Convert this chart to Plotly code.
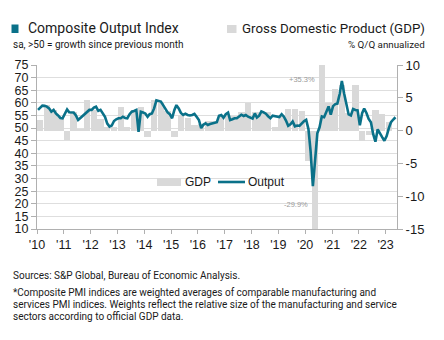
import plotly.graph_objects as go

# ---------------- data ----------------
pmi_start_year = 2010
pmi_values = [
    57.2, 58.0, 58.9, 58.8, 58.5, 57.8, 56.5, 57.2, 55.8, 55.0, 54.0, 53.9,  # 2010
    55.5, 57.4, 56.3, 56.2, 56.2, 55.0, 53.2, 54.0, 54.8, 55.5, 56.5, 57.2,  # 2011
    57.2, 58.1, 58.5, 56.8, 57.2, 55.8, 54.5, 51.8, 50.6, 51.0, 52.8, 53.5,  # 2012
    53.9, 53.9, 54.5, 54.0, 53.9, 55.5, 56.5, 56.8, 57.2, 48.5, 56.5, 56.2,  # 2013
    55.8, 54.5, 55.5, 55.8, 57.8, 61.0, 60.6, 60.5, 59.1, 57.8, 56.2, 55.5,  # 2014
    53.9, 57.2, 59.1, 57.8, 56.0, 55.2, 55.7, 55.2, 55.0, 55.2, 55.6, 54.5,  # 2015
    53.2, 50.0, 51.3, 51.9, 51.2, 51.6, 51.9, 52.1, 52.3, 54.9, 55.2, 54.1,  # 2016
    55.5, 56.1, 53.2, 53.5, 53.9, 53.9, 54.6, 55.3, 54.8, 55.2, 54.5, 54.1,  # 2017
    53.8, 55.8, 54.2, 54.9, 56.6, 56.2, 55.7, 54.7, 53.9, 54.9, 54.7, 54.4,  # 2018
    54.4, 55.5, 54.6, 53.0, 50.9, 51.5, 52.6, 50.7, 51.0, 50.9, 52.0, 52.7,  # 2019
    53.3, 49.6, 40.9, 27.0, 37.0, 47.9, 50.3, 54.6, 54.3, 56.3, 58.6, 55.3,  # 2020
    58.7, 59.5, 59.7, 63.5, 68.7, 63.7, 59.9, 55.4, 55.0, 57.6, 57.2, 57.0,  # 2021
    51.1, 55.9, 57.7, 56.0, 53.6, 52.3, 47.7, 44.6, 49.5, 48.2, 46.4, 45.0,  # 2022
    46.8, 50.1, 52.3, 53.4, 54.3,                                            # 2023
]
gdp_values = [
    1.6, 3.9, 3.1, 2.0,      # 2010
    -1.4, 2.9, 0.2, 4.6,     # 2011
    3.2, 1.7, 0.5, 0.5,      # 2012
    3.6, 0.5, 3.2, 3.6,      # 2013
    -1.0, 4.7, 4.3, 3.0,     # 2014
    -1.0, 2.4, 1.9, 0.8,     # 2015
    1.0, 1.4, 1.4, 2.3,      # 2016
    2.3, 2.3, 2.8, 4.2,      # 2017
    2.9, 2.9, 2.9, 0.6,      # 2018
    2.4, 3.3, 3.3, 3.0,      # 2019
    -4.6, -29.9, 35.3, 4.2,  # 2020
    6.3, 7.0, 2.7, 7.0,      # 2021
    -1.6, -0.6, 3.2, 2.6,    # 2022
    1.3,                     # 2023
]
year_ticks = list(range(2010, 2024))
year_labels = ["'" + str(y)[2:] for y in year_ticks]
left_ticks = list(range(10, 80, 5))
right_ticks = [10, 5, 0, -5, -10, -15]
right_labels = ["10", "5", "0", "-5", "-10", "-15"]

# --------------- derived x positions ---------------
pmi_dates = []
for i in range(len(pmi_values)):
    y = pmi_start_year + i // 12
    m = i % 12 + 1
    pmi_dates.append(f"{y}-{m:02d}-15")
gdp_dates = []
for i in range(len(gdp_values)):
    y = pmi_start_year + i // 4
    m = (i % 4) * 3 + 2
    gdp_dates.append(f"{y}-{m:02d}-15")

TEAL = "#0a7189"
GRAY_BAR = "#d9d9d9"
AXIS = "#b0b0b0"
GRID = "#dedede"
TXT = "#1a1a1a"
FONT = "Liberation Sans, Arial, sans-serif"
TFONT = "Roboto, Liberation Sans, sans-serif"

fig = go.Figure()
fig.add_trace(go.Bar(
    x=gdp_dates, y=gdp_values, name="GDP", yaxis="y",
    marker=dict(color=GRAY_BAR, line=dict(width=0)),
    width=86 * 24 * 3600 * 1000, showlegend=False,
))
fig.add_trace(go.Scatter(
    x=pmi_dates, y=pmi_values, name="Output", yaxis="y2", mode="lines",
    line=dict(color=TEAL, width=2.6), showlegend=False,
))

fig.update_layout(
    width=444, height=340,
    margin=dict(l=37, r=47, t=65, b=111),
    paper_bgcolor="white", plot_bgcolor="white",
    font=dict(family=FONT, size=12, color=TXT),
    bargap=0,
    xaxis=dict(
        type="date", range=["2010-01-01", "2023-06-05"],
        tickvals=[f"{y}-01-01" for y in year_ticks], ticktext=year_labels,
        ticks="outside", ticklen=4, tickcolor=AXIS,
        showline=True, linecolor=AXIS, linewidth=1, showgrid=False,
        tickfont=dict(size=12.5, color=TXT),
    ),
    yaxis=dict(
        side="right", range=[-15, 10],
        tickvals=right_ticks, ticktext=right_labels,
        ticks="outside", ticklen=5, tickcolor=AXIS,
        showline=True, linecolor=AXIS, linewidth=1,
        showgrid=False, zeroline=False,
        tickfont=dict(size=13, color=TXT),
    ),
    yaxis2=dict(
        overlaying="y", side="left", range=[10, 75],
        tickvals=left_ticks, ticks="outside", ticklen=5, tickcolor=AXIS,
        showline=True, linecolor=AXIS, linewidth=1,
        showgrid=True, gridcolor=GRID, gridwidth=1, zeroline=False,
        tickfont=dict(size=12.5, color=TXT),
    ),
)

shapes = [
    # header swatches
    dict(type="rect", xref="paper", yref="paper", x0=-25.5 / 360, x1=-18.5 / 360,
         y0=(229 - 33) / 164, y1=(229 - 24.5) / 164, fillcolor=TEAL, line=dict(width=0)),
    dict(type="rect", xref="paper", yref="paper", x0=(227 - 37) / 360, x1=(236.5 - 37) / 360,
         y0=(229 - 33) / 164, y1=(229 - 25) / 164, fillcolor=GRAY_BAR, line=dict(width=0)),
    # legend swatches
    dict(type="rect", xref="paper", yref="paper", x0=(157 - 37) / 360, x1=(181 - 37) / 360,
         y0=(229 - 186) / 164, y1=(229 - 178) / 164, fillcolor=GRAY_BAR, line=dict(width=0)),
    dict(type="line", xref="paper", yref="paper", x0=(218 - 37) / 360, x1=(245 - 37) / 360,
         y0=(229 - 182) / 164, y1=(229 - 182) / 164, line=dict(color=TEAL, width=2.6)),
]
fig.update_layout(shapes=shapes)


def px_x(px):
    return (px - 37) / 360


def px_y(py):
    return (229 - py) / 164


ann = [
    dict(text="Composite Output Index", x=px_x(25.5), y=px_y(28.5), xanchor="left", yanchor="middle",
         font=dict(family=TFONT, size=14, color=TXT)),
    dict(text="sa, >50 = growth since previous month", x=px_x(11), y=px_y(44), xanchor="left",
         yanchor="middle", font=dict(family=TFONT, size=10, color=TXT)),
    dict(text="Gross Domestic Product (GDP)", x=px_x(427), y=px_y(28.5), xanchor="right",
         yanchor="middle", font=dict(family=TFONT, size=13.3, color=TXT)),
    dict(text="% Q/Q annualized", x=px_x(427), y=px_y(44), xanchor="right", yanchor="middle",
         font=dict(family=TFONT, size=9.8, color=TXT)),
    dict(text="GDP", x=px_x(183), y=px_y(182), xanchor="left", yanchor="middle",
         font=dict(family=FONT, size=12, color=TXT)),
    dict(text="Output", x=px_x(246), y=px_y(182), xanchor="left", yanchor="middle",
         font=dict(family=FONT, size=12, color=TXT)),
    dict(text="+35.3%", x=px_x(302), y=px_y(79), xanchor="center", yanchor="middle",
         font=dict(family=FONT, size=7.5, color="#9a9a9a")),
    dict(text="-29.9%", x=px_x(296), y=px_y(204), xanchor="center", yanchor="middle",
         font=dict(family=FONT, size=7.5, color="#9a9a9a")),
    dict(text="Sources: S&P Global, Bureau of Economic Analysis.", x=px_x(11), y=px_y(275),
         xanchor="left", yanchor="middle", font=dict(family=TFONT, size=10, color=TXT)),
    dict(text="*Composite PMI indices are weighted averages of comparable manufacturing and",
         x=px_x(11), y=px_y(292.5), xanchor="left", yanchor="middle",
         font=dict(family=TFONT, size=10, color=TXT)),
    dict(text="services PMI indices. Weights reflect the relative size of the manufacturing and service",
         x=px_x(11), y=px_y(304.5), xanchor="left", yanchor="middle",
         font=dict(family=TFONT, size=10, color=TXT)),
    dict(text="sectors according to official GDP data.", x=px_x(11), y=px_y(316.5),
         xanchor="left", yanchor="middle", font=dict(family=TFONT, size=10, color=TXT)),
]
for a in ann:
    a.update(xref="paper", yref="paper", showarrow=False)
fig.update_layout(annotations=ann)

fig.write_html("out.html")
